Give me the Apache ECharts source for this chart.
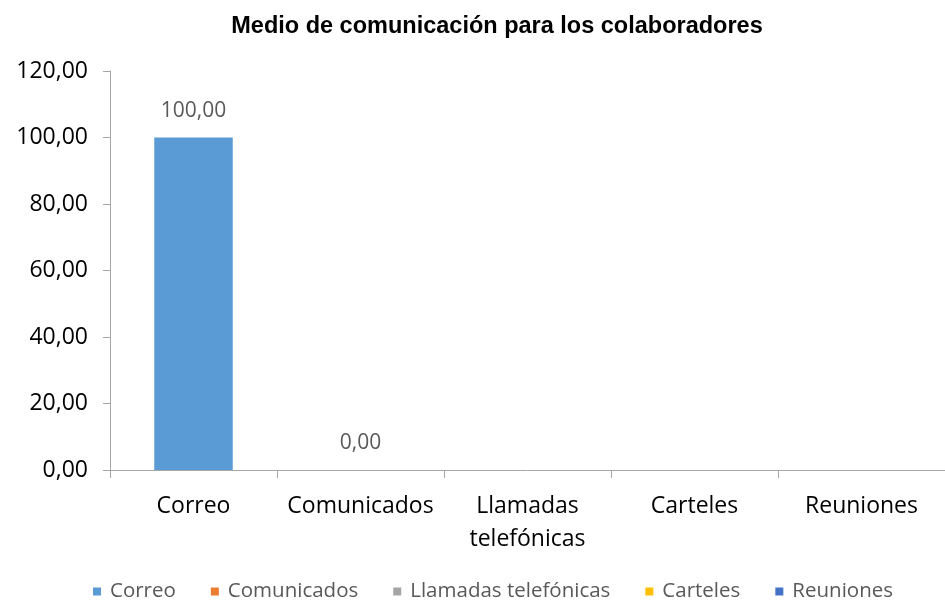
<!DOCTYPE html>
<html>
<head>
<meta charset="utf-8">
<script src="https://cdn.jsdelivr.net/npm/echarts@6/dist/echarts.min.js"></script>
<style>
  html, body { margin: 0; padding: 0; background: #ffffff; }
  #chart { width: 945px; height: 603px; }
</style>
</head>
<body>
<div id="chart"></div>
<script>
// Communication channels and their percentage of collaborators
const categories = ['Correo', 'Comunicados', 'Llamadas telefónicas', 'Carteles', 'Reuniones'];
const correo = [100, '-', '-', '-', '-'];
const comunicados = ['-', 0, '-', '-', '-'];
const llamadas = ['-', '-', '-', '-', '-'];
const carteles = ['-', '-', '-', '-', '-'];
const reuniones = ['-', '-', '-', '-', '-'];
const yTicks = { min: 0, max: 120, interval: 20 };

const seriesData = [correo, comunicados, llamadas, carteles, reuniones];
const colors = ['#5B9BD5', '#ED7D31', '#A5A5A5', '#FFC000', '#4472C4'];
const fmt = v => Number(v).toFixed(2).replace('.', ',');
const FONT = '"Open Sans", sans-serif';

const chart = echarts.init(document.getElementById('chart'), null, { renderer: 'canvas' });

chart.setOption({
  animation: false,
  backgroundColor: '#ffffff',
  title: {
    text: 'Medio de comunicación para los colaboradores',
    left: 492,
    top: 10,
    textAlign: 'center',
    textStyle: { fontFamily: '"Liberation Sans", Arial, sans-serif', fontWeight: 'bold', fontSize: 23.5, color: '#000000' }
  },
  legend: {
    top: 581,
    left: 93,
    padding: 0,
    itemWidth: 8,
    itemHeight: 8,
    itemGap: 35,
    icon: 'rect',
    textStyle: { fontFamily: FONT, fontSize: 20.5, color: '#595959', padding: [0, 0, 0, 4] },
    data: categories
  },
  grid: { left: 110, right: 0, top: 71, bottom: 133, containLabel: false },
  xAxis: {
    type: 'category',
    data: categories,
    axisLine: { lineStyle: { color: '#A6A6A6', width: 1 } },
    axisTick: { show: true, length: 8, lineStyle: { color: '#A6A6A6' } },
    axisLabel: {
      fontFamily: FONT, fontSize: 23, color: '#000000', margin: 20, lineHeight: 33,
      interval: 0,
      formatter: v => v.replace(' ', '\n')
    }
  },
  yAxis: {
    type: 'value',
    min: yTicks.min, max: yTicks.max, interval: yTicks.interval,
    axisLine: { show: true, lineStyle: { color: '#A6A6A6' } },
    axisTick: { show: true, length: 7, lineStyle: { color: '#A6A6A6' } },
    splitLine: { show: false },
    axisLabel: { fontFamily: FONT, fontSize: 23, color: '#000000', margin: 22, formatter: fmt }
  },
  series: seriesData.map((d, i) => ({
    name: categories[i],
    type: 'bar',
    stack: 'canal',
    data: d,
    barWidth: '47%',
    itemStyle: { color: colors[i] },
    label: {
      show: true, position: 'top', distance: 16,
      fontFamily: FONT, fontSize: 21, color: '#595959',
      formatter: p => fmt(p.value)
    }
  }))
});
</script>
</body>
</html>
